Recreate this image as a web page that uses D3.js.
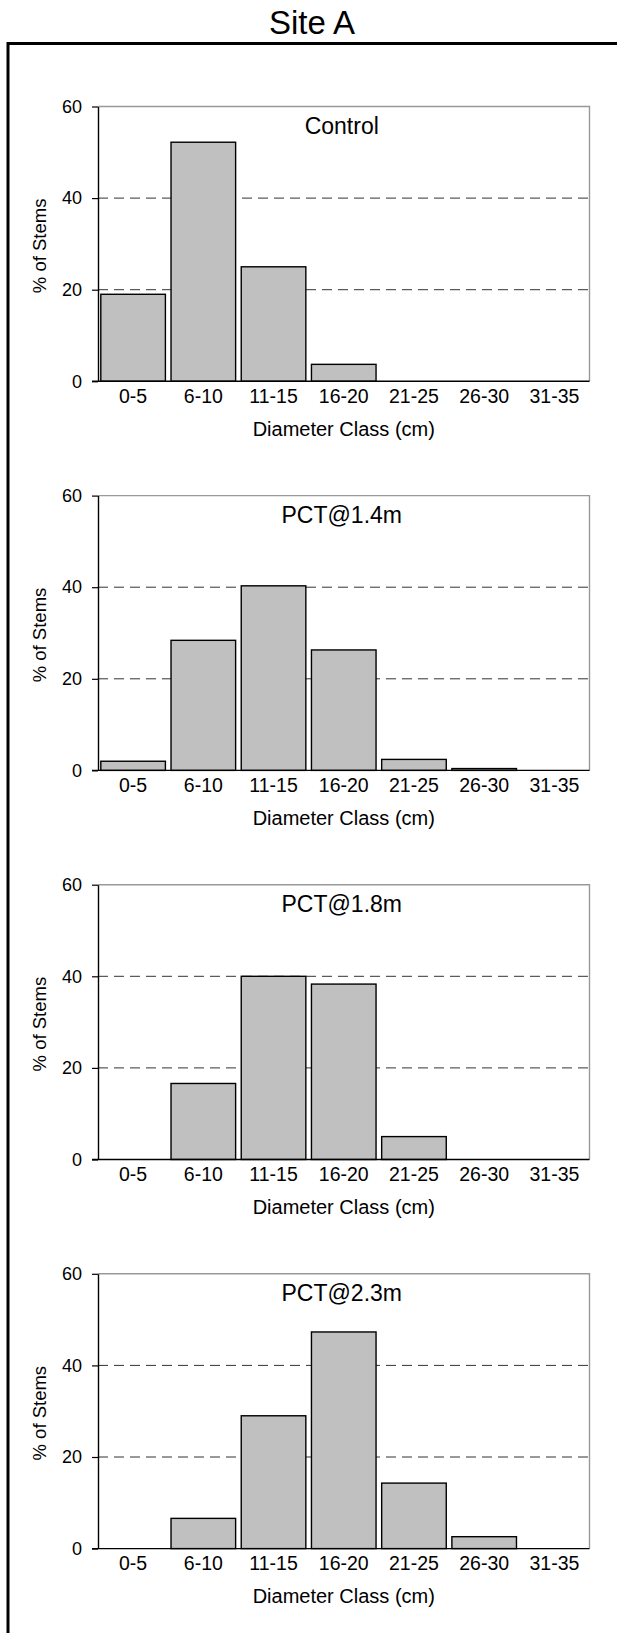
<!DOCTYPE html>
<html>
<head>
<meta charset="utf-8">
<script src="https://cdn.jsdelivr.net/npm/d3@7"></script>
<style>
  html, body { margin: 0; padding: 0; background: #fff; }
  svg { display: block; }
  text { font-family: "Liberation Sans", Arial, sans-serif; fill: #000; }
</style>
</head>
<body>
<div id="chart"></div>
<script>
const chartTitle = "Site A";
const categories = ["0-5", "6-10", "11-15", "16-20", "21-25", "26-30", "31-35"];
const panelTitles = ["Control", "PCT@1.4m", "PCT@1.8m", "PCT@2.3m"];
const control = [19.0, 52.2, 25.0, 3.7, 0, 0, 0];
const pct14 = [2.0, 28.4, 40.3, 26.3, 2.4, 0.4, 0];
const pct18 = [0, 16.6, 40.0, 38.3, 5.0, 0, 0];
const pct23 = [0, 6.6, 29.0, 47.3, 14.3, 2.6, 0];
const yTicks = [0, 20, 40, 60];
const gridTicks = [20, 40];
const xAxisTitle = "Diameter Class (cm)";
const yAxisTitle = "% of Stems";

const seriesList = [control, pct14, pct18, pct23];

const W = 617, H = 1633;
const svg = d3.select("#chart").append("svg").attr("width", W).attr("height", H);

// outer frame
svg.append("rect")
  .attr("x", 8).attr("y", 43.5)
  .attr("width", 640).attr("height", 1650)
  .attr("fill", "none").attr("stroke", "#000").attr("stroke-width", 3);

svg.append("text")
  .attr("x", 312).attr("y", 34)
  .attr("text-anchor", "middle")
  .style("font-size", "33px")
  .text(chartTitle);

const plotLeft = 98, plotRight = 589.5, plotH = 274.8, firstTop = 106.5, spacing = 389.1;

const x = d3.scaleBand().domain(categories).range([plotLeft, plotRight])
  .paddingInner(0.08).paddingOuter(0.04);

seriesList.forEach((vals, i) => {
  const top = firstTop + i * spacing;
  const bottom = top + plotH;
  const y = d3.scaleLinear().domain([0, 60]).range([bottom, top]);
  const g = svg.append("g");
  const data = categories.map((c, j) => ({ c, v: vals[j] }));

  // plot frame (top/right gray)
  g.append("path")
    .attr("d", `M${plotLeft},${y(60)}H${plotRight}V${y(0)}`)
    .attr("fill", "none").attr("stroke", "#999").attr("stroke-width", 1.4);

  // gridlines
  g.selectAll(".grid").data(gridTicks).join("line")
    .attr("x1", plotLeft).attr("x2", plotRight)
    .attr("y1", d => y(d)).attr("y2", d => y(d))
    .attr("stroke", "#333").attr("stroke-width", 1)
    .attr("stroke-dasharray", "10,6");

  // bars
  g.selectAll(".bar").data(data.filter(d => d.v > 0)).join("rect")
    .attr("x", d => x(d.c))
    .attr("width", x.bandwidth())
    .attr("y", d => y(d.v))
    .attr("height", d => y(0) - y(d.v))
    .attr("fill", "#c0c0c0").attr("stroke", "#000").attr("stroke-width", 1.4);

  // y axis
  const ya = g.append("g").attr("transform", `translate(${plotLeft},0)`)
    .call(d3.axisLeft(y).tickValues(yTicks).tickSize(6).tickPadding(10).tickSizeOuter(0));
  ya.select(".domain").attr("stroke", "#000").attr("stroke-width", 1.4);
  ya.selectAll(".tick line").attr("stroke", "#000").attr("stroke-width", 1.2);
  ya.selectAll(".tick text").style("font-size", "18px").style("font-family", "'Liberation Sans', Arial, sans-serif").attr("fill", "#000");

  // x axis
  const xa = g.append("g").attr("transform", `translate(0,${bottom})`)
    .call(d3.axisBottom(x).tickSize(0).tickPadding(8).tickSizeOuter(0));
  xa.select(".domain").attr("stroke", "#000").attr("stroke-width", 1.4)
    .attr("d", `M${plotLeft - 6},0H${plotRight}`);
  xa.selectAll(".tick text").style("font-size", "19.5px").style("font-family", "'Liberation Sans', Arial, sans-serif").attr("fill", "#000");

  // x title
  g.append("text")
    .attr("x", (plotLeft + plotRight) / 2).attr("y", bottom + 54.5)
    .attr("text-anchor", "middle").style("font-size", "20px")
    .text(xAxisTitle);

  // y title
  g.append("text")
    .attr("transform", `translate(46,${(top + bottom) / 2 + 2}) rotate(-90)`)
    .attr("text-anchor", "middle").style("font-size", "18.5px")
    .text(yAxisTitle);

  // panel title
  g.append("text")
    .attr("x", (plotLeft + plotRight) / 2 - 2).attr("y", top + 27)
    .attr("text-anchor", "middle").style("font-size", "23px")
    .text(panelTitles[i]);
});
</script>
</body>
</html>
